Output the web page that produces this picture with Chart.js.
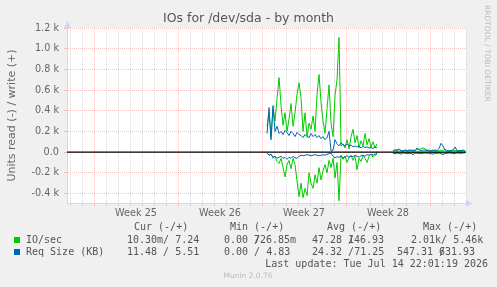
<!DOCTYPE html>
<html>
<head>
<meta charset="utf-8">
<script src="https://cdn.jsdelivr.net/npm/chart.js@4/dist/chart.umd.min.js"></script>
<style>
  html, body { margin: 0; padding: 0; background: #f0f0f0; }
  canvas { display: block; }
</style>
</head>
<body>
<canvas id="ioChart" width="497" height="287"></canvas>
<script>
// x is counted in days from the start of week 25, one sample every 4 hours
var startDay = 14.42;
var stepDay = 1 / 6;

var ioWrite = [250,380,150,420,300,520,720,450,260,380, 200,320,470,250,380,560,670,520,200,380,
  150,280,220,350,200,560,750,480,300,180, 420,650,280,150,550,700,1110,60,80,40,
  120,30,150,220,90,160,40,110,60,180, 70,130,50,100,40,80,
  null,null,null,null,null,null,null,
  10,20,25,30,15,10,20,10,15,20, 10,15,25,20,35,40,30,20,10,15,
  20,10,15,10,20,15,25,10,15,10, 20,15,10,15,10,15,10];
var ioRead = [10,30,20,60,40,90,110,60,150,240, 120,80,160,60,120,280,430,300,440,350,
  420,200,300,350,220,300,150,270,180,120, 200,80,150,60,250,100,470,30,70,40,
  100,50,30,80,40,170,60,90,30,60, 100,40,20,50,30,20,
  null,null,null,null,null,null,null,
  5,8,6,10,5,4,8,6,5,10, 6,8,5,6,4,8,5,6,10,5,
  6,4,8,5,6,10,8,5,6,4, 8,6,5,4,6,5,4];
var sizeWrite = [180,430,120,450,200,250,180,200,170,210, 190,160,200,180,150,190,170,160,140,170,
  150,140,180,150,170,140,160,130,150,120, 140,200,10,20,120,80,60,90,70,60,
  80,60,70,50,60,50,60,40,55,45, 50,40,45,35,50,40,
  null,null,null,null,null,null,null,
  15,20,10,25,15,10,20,15,20,15, 20,15,40,25,15,20,20,15,20,10,
  15,20,15,35,85,60,20,15,10,15, 20,50,15,10,15,20,10];
var sizeRead = [10,30,20,50,40,60,50,40,60,50, 70,50,60,40,55,60,40,30,35,30,
  25,30,35,30,25,30,35,30,25,30, 20,15,10,40,55,45,50,40,55,45,
  35,50,40,45,30,40,50,35,30,40, 25,30,20,30,20,10,
  null,null,null,null,null,null,null,
  10,15,8,12,20,8,10,15,12,10, 25,8,10,12,15,10,8,12,10,15,
  20,10,12,8,15,25,10,12,8,10, 15,12,8,10,12,8,6];

var weekLabels = ['Week 25', 'Week 26', 'Week 27', 'Week 28'];
var weekCenters = [3.5, 10.5, 17.5, 24.5];

var legendNames = ['IO/sec', 'Req Size (KB)'];
var legendColors = ['#00cc00', '#0066b3'];
var legendHeader = ['Cur (-/+)', 'Min (-/+)', 'Avg (-/+)', 'Max (-/+)'];
var legendCur = ['10.30m/ 7.24', '11.48 / 5.51'];
var legendMin = [['0.00 /', '726.85m'], ['0.00 / 4.83', '']];
var legendAvg = [['47.28 /', '146.93'], ['24.32 /71.25', '']];
var legendMax = [['2.01k/ 5.46k', ''], ['547.31 /', '631.93']];
var lastUpdate = 'Last update: Tue Jul 14 22:01:19 2026';

var xMin = -2.25, xMax = 31;
var majorGrid = 'rgba(230,110,110,0.4)';
var minorGrid = 'rgba(190,190,190,0.55)';

function toPoints(arr, sign) {
  return arr.map(function (v, i) {
    return { x: startDay + i * stepDay, y: v === null ? null : sign * v };
  });
}

var munin = {
  id: 'munin',
  beforeDraw: function (chart) {
    var ctx = chart.ctx, a = chart.chartArea;
    ctx.save();
    ctx.fillStyle = '#f0f0f0';
    ctx.fillRect(0, 0, chart.width, chart.height);
    ctx.fillStyle = '#ffffff';
    ctx.fillRect(a.left, a.top, a.right - a.left, a.bottom - a.top);
    ctx.restore();
  },
  afterDraw: function (chart) {
    var ctx = chart.ctx, a = chart.chartArea;
    ctx.save();
    // axis arrows
    ctx.fillStyle = '#cfd6f8';
    ctx.beginPath();
    ctx.moveTo(a.left + 0.5, a.top - 7);
    ctx.lineTo(a.left - 3, a.top);
    ctx.lineTo(a.left + 4, a.top);
    ctx.fill();
    ctx.beginPath();
    ctx.moveTo(a.right + 7, a.bottom + 0.5);
    ctx.lineTo(a.right, a.bottom - 3);
    ctx.lineTo(a.right, a.bottom + 4);
    ctx.fill();

    // legend table
    ctx.font = '10px "DejaVu Sans Mono"';
    ctx.textBaseline = 'middle';
    ctx.fillStyle = '#555';
    var hx = [134, 230, 327, 423];
    legendHeader.forEach(function (t, i) { ctx.fillText(t, hx[i], 227); });
    var rowY = [240, 252];
    var secondX = { min: [254, 0], avg: [348, 0], max: [0, 439] };
    for (var r = 0; r < 2; r++) {
      var y = rowY[r];
      ctx.fillStyle = legendColors[r];
      ctx.fillRect(14, y - 3, 6, 6);
      ctx.fillStyle = '#555';
      ctx.fillText(legendNames[r], 26, y);
      ctx.fillText(legendCur[r], 127, y);
      ctx.fillText(legendMin[r][0], 224, y);
      if (legendMin[r][1]) ctx.fillText(legendMin[r][1], secondX.min[r], y);
      ctx.fillText(legendAvg[r][0], 312, y);
      if (legendAvg[r][1]) ctx.fillText(legendAvg[r][1], secondX.avg[r], y);
      ctx.fillText(legendMax[r][0], r === 0 ? 411 : 397, y);
      if (legendMax[r][1]) ctx.fillText(legendMax[r][1], secondX.max[r], y);
    }
    ctx.textAlign = 'right';
    ctx.fillText(lastUpdate, 488, 264);

    // footer and watermark
    ctx.font = '7.5px "DejaVu Sans"';
    ctx.fillStyle = '#bbbbbb';
    ctx.textAlign = 'center';
    ctx.fillText('Munin 2.0.76', 248, 276);
    ctx.translate(487, 5);
    ctx.rotate(Math.PI / 2);
    ctx.textAlign = 'left';
    ctx.fillText('RRDTOOL / TOBI OETIKER', 0, 0);
    ctx.restore();
  }
};

Chart.defaults.font.family = '"DejaVu Sans", sans-serif';

var ctx = document.getElementById('ioChart').getContext('2d');
var ioChart = new Chart(ctx, {
  type: 'line',
  data: {
    datasets: [
      { label: 'zero', data: [{ x: xMin, y: 0 }, { x: xMax, y: 0 }], borderColor: '#000', borderWidth: 1.4 },
      { label: 'Req Size (KB) write', data: toPoints(sizeWrite, 1), borderColor: '#0066b3' },
      { label: 'Req Size (KB) read', data: toPoints(sizeRead, -1), borderColor: '#0066b3' },
      { label: 'IO/sec write', data: toPoints(ioWrite, 1), borderColor: '#00cc00' },
      { label: 'IO/sec read', data: toPoints(ioRead, -1), borderColor: '#00cc00' }
    ]
  },
  options: {
    responsive: false,
    animation: false,
    spanGaps: false,
    elements: {
      line: { borderWidth: 1, tension: 0, fill: false },
      point: { radius: 0 }
    },
    layout: { padding: { left: 0, right: 0, top: 0, bottom: 68 } },
    plugins: {
      legend: { display: false },
      tooltip: { enabled: false },
      title: {
        display: true,
        text: 'IOs for /dev/sda - by month',
        color: '#555',
        font: { size: 12.5, weight: 'normal' },
        padding: { top: 11.5, bottom: 1.5 }
      }
    },
    scales: {
      x: {
        type: 'linear',
        min: xMin,
        max: xMax,
        afterBuildTicks: function (scale) {
          var t = [];
          for (var d = -2; d <= 31; d++) t.push({ value: d });
          weekCenters.forEach(function (v) { t.push({ value: v }); });
          t.sort(function (p, q) { return p.value - q.value; });
          scale.ticks = t;
        },
        afterFit: function (scale) { scale.height = 16; },
        ticks: {
          autoSkip: false, maxRotation: 0, minRotation: 0, padding: 2,
          color: '#666', font: { size: 9.7 },
          callback: function (value) {
            var k = weekCenters.indexOf(value);
            return k >= 0 ? weekLabels[k] : '';
          }
        },
        grid: {
          tickLength: 3,
          color: function (c) {
            var v = c.tick ? c.tick.value : 0;
            if (!Number.isInteger(v)) return 'rgba(0,0,0,0)';
            return v % 7 === 0 ? majorGrid : minorGrid;
          }
        },
        border: { color: '#cfd6f8', dash: [1, 1] }
      },
      y: {
        min: -492,
        max: 1200,
        afterBuildTicks: function (scale) {
          var t = [];
          for (var v = -400; v <= 1200; v += 100) t.push({ value: v });
          scale.ticks = t;
        },
        afterFit: function (scale) { scale.width = 67; },
        ticks: {
          padding: 5, color: '#666', font: { size: 9.7 },
          callback: function (v) {
            if (v % 200 !== 0) return '';
            return v === 0 ? '0.0' : (v / 1000).toFixed(1) + ' k';
          }
        },
        grid: {
          tickLength: 3,
          color: function (c) {
            var v = c.tick ? c.tick.value : 0;
            return v % 200 === 0 ? majorGrid : minorGrid;
          }
        },
        border: { color: '#cfd6f8', dash: [1, 1] },
        title: {
          display: true,
          text: 'Units read (-) / write (+)',
          color: '#666',
          font: { size: 11 },
          padding: { top: 6, bottom: 0 }
        }
      },
      yRight: {
        position: 'right',
        afterFit: function (scale) { scale.width = 31; },
        ticks: { display: false },
        grid: { display: false },
        border: { display: false }
      }
    }
  },
  plugins: [munin]
});
</script>
</body>
</html>
